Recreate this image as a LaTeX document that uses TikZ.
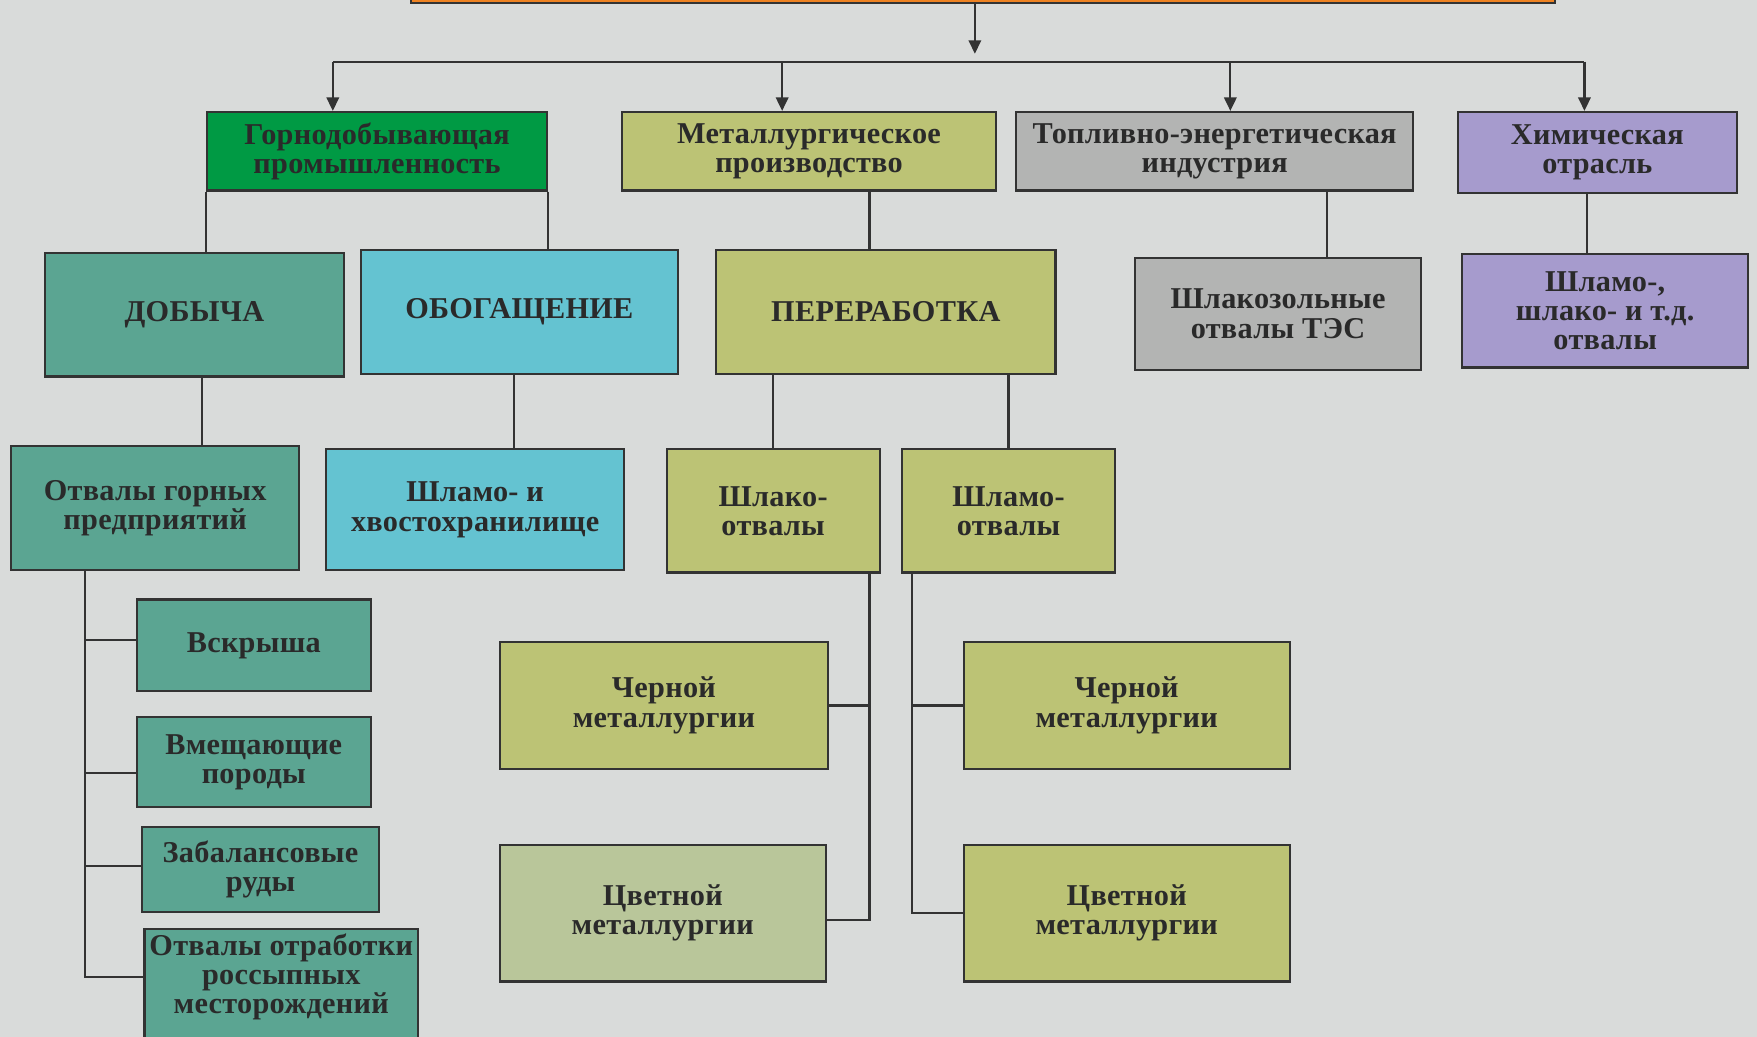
\documentclass[tikz,border=0pt]{standalone}
\usepackage{fontspec}
\setmainfont{Liberation Serif}
\usetikzlibrary{arrows.meta}
\definecolor{bg}{HTML}{D9DBDA}
\definecolor{edge}{HTML}{333333}
\definecolor{ink}{HTML}{2A2A2A}
\definecolor{orng}{HTML}{EE8222}
\definecolor{grn}{HTML}{009A44}
\definecolor{olv}{HTML}{BCC375}
\definecolor{olvl}{HTML}{B9C69A}
\definecolor{gry}{HTML}{B3B4B3}
\definecolor{lav}{HTML}{A69BCD}
\definecolor{tea}{HTML}{5BA592}
\definecolor{cya}{HTML}{64C3D1}
\newcommand\boxfont{\bfseries\fontsize{13.5}{13}\selectfont\addfontfeatures{LetterSpace=1}}
\tikzset{
  box/.style={draw=edge, line width=1pt, inner sep=2pt, align=center, text=ink, font=\boxfont},
  link/.style={draw=edge, line width=1pt},
  arr/.style={link, -{Triangle[length=6pt,width=5.5pt]}},
}
\begin{document}
\begin{tikzpicture}[x=0.5pt,y=-0.5pt]
\fill[bg] (0,0) rectangle (1568,925);
\useasboundingbox (0,0) rectangle (1568,925);

% top bar
\node[box, fill=orng, minimum width=510.5pt, minimum height=16.5pt] (top) at (877.5,-13.5) {};

% level 1
\node[box, fill=grn, minimum width=151.5pt, minimum height=35pt] (gorn) at (336.5,135) {Горнодобывающая\\промышленность};
\node[box, fill=olv, minimum width=167pt, minimum height=35pt] (metal) at (722,135) {Металлургическое\\производство};
\node[box, fill=gry, minimum width=177pt, minimum height=35pt] (topl) at (1084,135) {Топливно-энергетическая\\индустрия};
\node[box, fill=lav, minimum width=124.5pt, minimum height=36pt] (him) at (1425.5,136) {Химическая\\отрасль};

% level 2
\node[box, fill=tea, minimum width=133.5pt, minimum height=55pt] (dob) at (173.5,281) {ДОБЫЧА};
\node[box, fill=cya, minimum width=141.5pt, minimum height=55.5pt] (obog) at (463.5,278.5) {ОБОГАЩЕНИЕ};
\node[box, fill=olv, minimum width=151.5pt, minimum height=55.5pt] (perer) at (790.5,278.5) {ПЕРЕРАБОТКА};
\node[box, fill=gry, minimum width=127.5pt, minimum height=50pt] (shz) at (1140.5,280) {Шлакозольные\\отвалы ТЭС};
\node[box, fill=lav, minimum width=127.5pt, minimum height=50.5pt] (shh) at (1432.5,277.5) {Шламо-,\\шлако- и т.д.\\отвалы};

% level 3
\node[box, fill=tea, minimum width=128.5pt, minimum height=55.5pt] (otg) at (138.5,453.5) {Отвалы горных\\предприятий};
\node[box, fill=cya, minimum width=133pt, minimum height=54pt] (shx) at (424,455) {Шламо- и\\хвостохранилище};
\node[box, fill=olv, minimum width=95pt, minimum height=55pt] (shlk) at (690,456) {Шлако-\\отвалы};
\node[box, fill=olv, minimum width=95pt, minimum height=55pt] (shlm) at (900,456) {Шламо-\\отвалы};

% level 4 left
\node[box, fill=tea, minimum width=104.5pt, minimum height=41pt] (vskr) at (226.5,576) {Вскрыша};
\node[box, fill=tea, minimum width=104.5pt, minimum height=40pt] (vmesh) at (226.5,680) {Вмещающие\\породы};
\node[box, fill=tea, minimum width=105.5pt, minimum height=38pt] (zab) at (232.5,776) {Забалансовые\\руды};
\node[box, fill=tea, minimum width=122pt, minimum height=58pt] (otr) at (251,887) {};
\node[text=ink, font=\boxfont, align=center] (otrt) at (251,872) {Отвалы отработки\\россыпных\\месторождений};

% level 4 middle
\node[box, fill=olv, minimum width=146.5pt, minimum height=56.5pt] (ch1) at (592.5,629.5) {Черной\\металлургии};
\node[box, fill=olvl, minimum width=145.5pt, minimum height=61pt] (cv1) at (591.5,815) {Цветной\\металлургии};
\node[box, fill=olv, minimum width=145.5pt, minimum height=56.5pt] (ch2) at (1005.5,629.5) {Черной\\металлургии};
\node[box, fill=olv, minimum width=145.5pt, minimum height=61pt] (cv2) at (1005.5,815) {Цветной\\металлургии};

% bus
\coordinate (bin) at (870,48);
\coordinate (b1) at (297,55);
\coordinate (b2) at (698,55);
\coordinate (b3) at (1098,55);
\coordinate (b4) at (1414,55);
\draw[arr] (top.south -| bin) -- (bin);
\draw[link] (b1) -- (b4);
\draw[arr] (b1) -- (b1 |- gorn.north);
\draw[arr] (b2) -- (b2 |- metal.north);
\draw[arr] (b3) -- (b3 |- topl.north);
\draw[arr] (b4) -- (b4 |- him.north);

% level 1 -> 2
\coordinate (xm) at (776,0);
\coordinate (xt) at (1184,0);
\coordinate (xh) at (1416,0);
\draw[link] (gorn.south west) -- (gorn.south west |- dob.north);
\draw[link] (gorn.south east) -- (gorn.south east |- obog.north);
\draw[link] (metal.south -| xm) -- (xm |- perer.north);
\draw[link] (topl.south -| xt) -- (xt |- shz.north);
\draw[link] (him.south -| xh) -- (xh |- shh.north);

% level 2 -> 3
\coordinate (xd) at (180,0);
\coordinate (xo) at (459,0);
\draw[link] (dob.south -| xd) -- (xd |- otg.north);
\draw[link] (obog.south -| xo) -- (xo |- shx.north);
\draw[link] (perer.south -| shlk.north) -- (shlk.north);
\draw[link] (perer.south -| shlm.north) -- (shlm.north);

% left tree
\coordinate (lv) at (76,0);
\draw[link] (otg.south -| lv) |- ([yshift=7.5pt]otr.west);
\draw[link] ([yshift=2.5pt]vskr.west -| lv) -- ([yshift=2.5pt]vskr.west);
\draw[link] ([yshift=-5pt]vmesh.west -| lv) -- ([yshift=-5pt]vmesh.west);
\draw[link] ([yshift=1.5pt]zab.west -| lv) -- ([yshift=1.5pt]zab.west);

% middle trees
\coordinate (ml) at (776,0);
\coordinate (mr) at (814,0);
\draw[link] (shlk.south -| ml) |- ([yshift=-3pt]cv1.east);
\draw[link] (ch1.east) -- (ch1.east -| ml);
\draw[link] (shlm.south -| mr) |- (cv2.west);
\draw[link] (ch2.west -| mr) -- (ch2.west);
\end{tikzpicture}
\end{document}
